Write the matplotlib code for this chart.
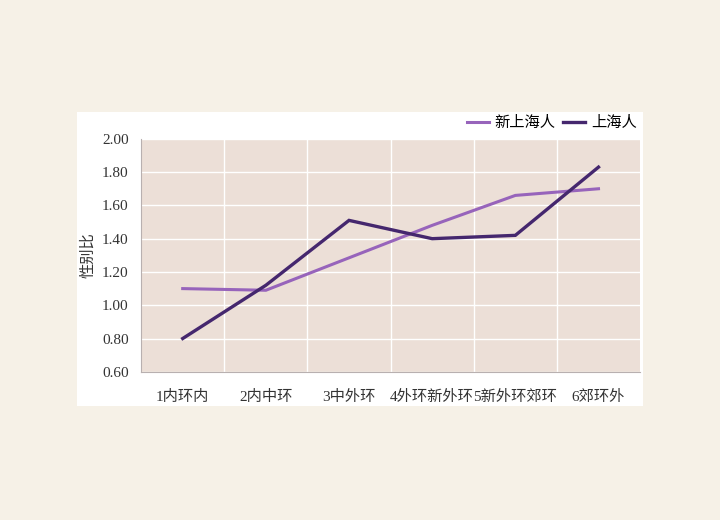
import matplotlib.pyplot as plt
import matplotlib as mpl
import numpy as np

plt.rcParams['font.family'] = ['Liberation Serif', 'Noto Sans CJK SC']

categories = ['1内环内', '2内中环', '3中外环', '4外环新外环', '5新外环郊环', '6郊环外']
new_sh = [1.10, 1.09, 1.285, 1.48, 1.66, 1.70]
old_sh = [0.80, 1.12, 1.51, 1.40, 1.42, 1.83]
yticks = [0.60, 0.80, 1.00, 1.20, 1.40, 1.60, 1.80, 2.00]

fig = plt.figure(figsize=(7.2, 5.2), dpi=100)
fig.patch.set_facecolor('#f6f1e7')
# white card behind the chart
card = mpl.patches.Rectangle((0.107, 0.219), 0.786, 0.565, transform=fig.transFigure,
                             facecolor='white', edgecolor='none', zorder=-5)
fig.add_artist(card)

ax = fig.add_axes([0.196, 0.285, 0.693, 0.448])
ax.set_facecolor('#ecdfd7')
x = np.arange(len(categories))
ax.plot(x, new_sh, color='#9764bb', lw=2.2, label='新上海人', solid_joinstyle='miter')
ax.plot(x, old_sh, color='#45276e', lw=2.4, label='上海人', solid_joinstyle='miter')

ax.set_xlim(-0.5, len(categories) - 0.5)
ax.set_ylim(0.6, 2.0)
ax.set_yticks(yticks)
ax.set_yticklabels(['{:.2f}'.format(v) for v in yticks], fontsize=11, color='#333333')
ax.set_xticks(x)
ax.set_xticklabels(categories, fontsize=11, color='#333333')
ax.set_xticks(np.arange(0.5, len(categories) - 0.5, 1), minor=True)
ax.tick_params(axis='both', which='both', length=0)
ax.tick_params(axis='x', pad=13)
ax.tick_params(axis='y', pad=9)
ax.grid(True, axis='y', color='white', lw=1)
ax.grid(True, axis='x', which='minor', color='white', lw=1)
ax.set_axisbelow(True)
for s in ['top', 'right']:
    ax.spines[s].set_visible(False)
for s in ['left', 'bottom']:
    ax.spines[s].set_color('#b8b0b0')
    ax.spines[s].set_linewidth(0.8)

ax.set_ylabel('性别比', fontsize=11, color='#333333', labelpad=5)

ax.legend(loc='lower right', bbox_to_anchor=(1.01, 1.0), ncol=2, frameon=False,
          fontsize=11, handlelength=1.4, handletextpad=0.4, columnspacing=0.5,
          borderaxespad=0.15)

plt.savefig('out.png', dpi=100, facecolor=fig.get_facecolor())
plt.close(fig)
